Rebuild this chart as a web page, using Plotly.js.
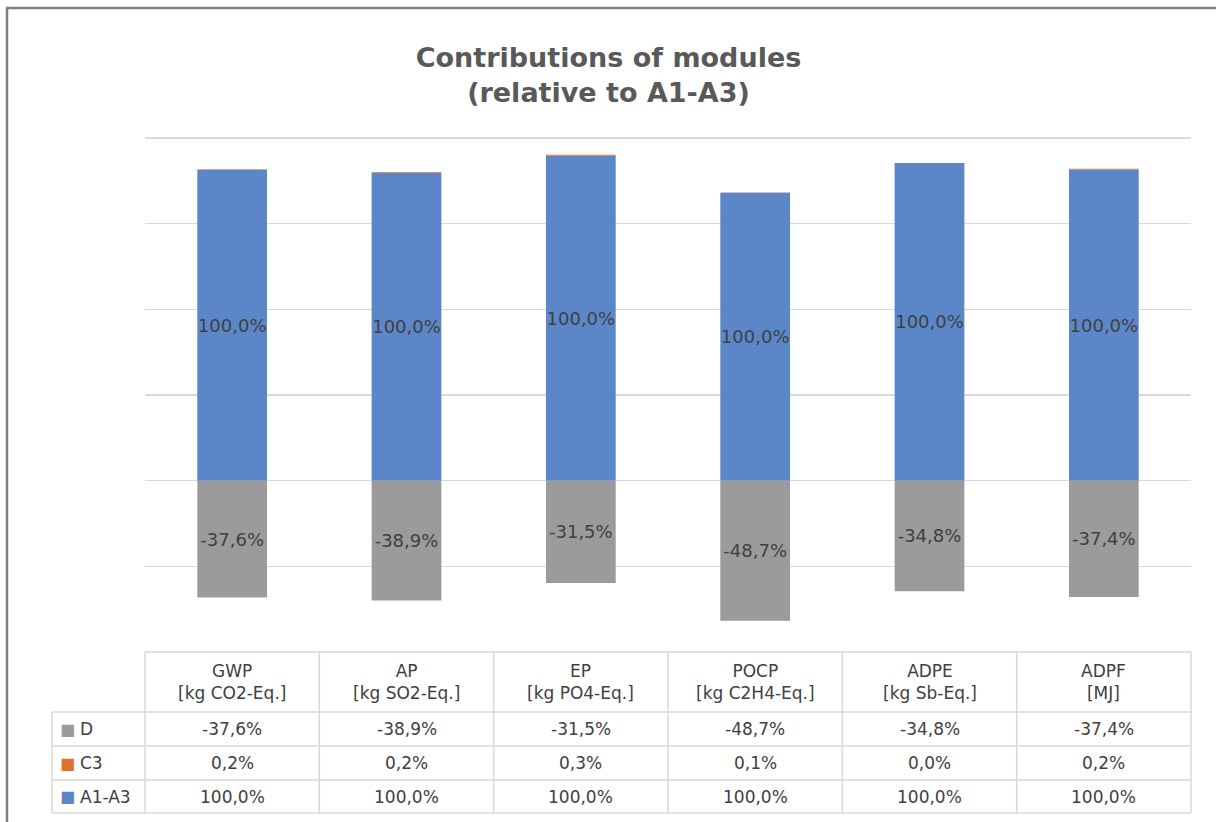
<!DOCTYPE html>
<html>
<head>
<meta charset="utf-8">
<script src="https://cdn.plot.ly/plotly-3.0.1.min.js"></script>
<style>html,body{margin:0;padding:0;background:#fff;overflow:hidden;}#chart{width:1217px;height:822px;}</style>
</head>
<body>
<div id="chart"></div>
<script>
// ---- data ----
var categories = ['GWP', 'AP', 'EP', 'POCP', 'ADPE', 'ADPF'];
var units = ['[kg CO2-Eq.]', '[kg SO2-Eq.]', '[kg PO4-Eq.]', '[kg C2H4-Eq.]', '[kg Sb-Eq.]', '[MJ]'];
var seriesNames = ['D', 'C3', 'A1-A3'];
var valuesA1A3 = [100.0, 100.0, 100.0, 100.0, 100.0, 100.0];
var valuesC3 = [0.2, 0.2, 0.3, 0.1, 0.0, 0.2];
var valuesD = [-37.6, -38.9, -31.5, -48.7, -34.8, -37.4];

// ---- styles ----
var colA1 = '#5b87c8', colC3 = '#e0702f', colD = '#9b9b9b';
var txtCol = '#404040', lineCol = '#d9d9d9';
var FONT = 'DejaVu Sans, Liberation Sans, Arial, sans-serif';
var W = 1217, H = 822;
function px(x) { return x / W; }
function py(y) { return (H - y) / H; }
function fmt(v) { return v.toFixed(1).replace('.', ',') + '%'; }

// 100% stacked (Excel style): each value relative to the sum of absolute values of its column
var totals = categories.map(function (c, i) {
  return Math.abs(valuesA1A3[i]) + Math.abs(valuesC3[i]) + Math.abs(valuesD[i]);
});
function norm(arr) { return arr.map(function (v, i) { return v / totals[i]; }); }

// plot / table geometry (pixels)
var plotL = 145, plotR = 1191, tableL = 52;
var colW = (plotR - plotL) / categories.length;
var headTop = 652, headBot = 712;
var rowBounds = [712, 746, 780, 813];

var barCommon = {
  type: 'bar', x: categories, width: 0.4, hoverinfo: 'skip',
  textposition: 'inside', insidetextanchor: 'middle', constraintext: 'none', textangle: 0,
  textfont: { family: FONT, size: 18, color: txtCol }, showlegend: false
};

var traces = [
  Object.assign({}, barCommon, { name: seriesNames[2], y: norm(valuesA1A3), text: valuesA1A3.map(fmt), marker: { color: colA1 } }),
  Object.assign({}, barCommon, { name: seriesNames[1], y: norm(valuesC3), text: valuesC3.map(function () { return ''; }), marker: { color: colC3 } }),
  Object.assign({}, barCommon, { name: seriesNames[0], y: norm(valuesD), text: valuesD.map(fmt), marker: { color: colD } })
];

// ---- data table drawn with shapes + annotations ----
var shapes = [];
var annotations = [];
function hline(y, x0, x1) {
  shapes.push({ type: 'line', xref: 'paper', yref: 'paper', x0: px(x0), x1: px(x1), y0: py(y), y1: py(y),
    line: { color: lineCol, width: 1.5 } });
}
function vline(x, y0, y1) {
  shapes.push({ type: 'line', xref: 'paper', yref: 'paper', x0: px(x), x1: px(x), y0: py(y0), y1: py(y1),
    line: { color: lineCol, width: 1.5 } });
}
hline(headTop, plotL, plotR);
rowBounds.forEach(function (y) { hline(y, tableL, plotR); });
vline(tableL, headBot, rowBounds[rowBounds.length - 1]);
for (var k = 0; k <= categories.length; k++) {
  vline(plotL + k * colW, headTop, rowBounds[rowBounds.length - 1]);
}

// header texts
categories.forEach(function (c, i) {
  annotations.push({ xref: 'paper', yref: 'paper', x: px(plotL + (i + 0.5) * colW), y: py((headTop + headBot) / 2),
    xanchor: 'center', yanchor: 'middle', showarrow: false, align: 'center',
    text: c + '<br>' + units[i], font: { family: FONT, size: 17, color: txtCol } });
});
// body rows
var rowSeries = [valuesD, valuesC3, valuesA1A3];
var rowColors = [colD, colC3, colA1];
rowSeries.forEach(function (vals, r) {
  var yc = py((rowBounds[r] + rowBounds[r + 1]) / 2);
  annotations.push({ xref: 'paper', yref: 'paper', x: px(tableL + 6), y: yc, xanchor: 'left', yanchor: 'middle',
    showarrow: false, text: '■', font: { family: FONT, size: 16, color: rowColors[r] } });
  annotations.push({ xref: 'paper', yref: 'paper', x: px(tableL + 26), y: yc, xanchor: 'left', yanchor: 'middle',
    showarrow: false, text: seriesNames[r], font: { family: FONT, size: 17, color: txtCol } });
  vals.forEach(function (v, i) {
    annotations.push({ xref: 'paper', yref: 'paper', x: px(plotL + (i + 0.5) * colW), y: yc,
      xanchor: 'center', yanchor: 'middle', showarrow: false,
      text: fmt(v), font: { family: FONT, size: 17, color: txtCol } });
  });
});

// outer frame (left and top edges only)
shapes.push({ type: 'line', xref: 'paper', yref: 'paper', x0: px(7), x1: px(7), y0: 0, y1: py(8),
  line: { color: '#808080', width: 2.5 } });
shapes.push({ type: 'line', xref: 'paper', yref: 'paper', x0: px(6), x1: px(1216), y0: py(8), y1: py(8),
  line: { color: '#808080', width: 2.5 } });

var yMin = -0.4, yMax = 0.81, gridTopVal = 0.8;
var pxPerUnit = (headTop - 138) / (gridTopVal - yMin);
var plotTop = 138 - (yMax - gridTopVal) * pxPerUnit;

var layout = {
  width: W, height: H,
  margin: { l: 0, r: 0, t: 0, b: 0 },
  paper_bgcolor: '#ffffff', plot_bgcolor: 'rgba(0,0,0,0)',
  barmode: 'relative',
  font: { family: FONT, color: txtCol },
  title: {
    text: 'Contributions of modules<br>(relative to A1-A3)',
    x: 0.5, xanchor: 'center', xref: 'paper',
    y: py(67), yanchor: 'middle', yref: 'paper',
    font: { family: FONT, size: 27, color: '#595959', weight: 'bold' }
  },
  xaxis: {
    domain: [px(plotL), px(plotR)], range: [-0.5, 5.5], type: 'category',
    showticklabels: false, showgrid: false, zeroline: false, showline: false, ticks: ''
  },
  yaxis: {
    domain: [py(headTop), py(plotTop)], range: [yMin, yMax], dtick: 0.2, tick0: 0,
    showticklabels: false, showgrid: true, gridcolor: lineCol, gridwidth: 1.5,
    zeroline: false, showline: false, ticks: ''
  },
  shapes: shapes,
  annotations: annotations
};

Plotly.newPlot('chart', traces, layout, { displayModeBar: false, staticPlot: true });
</script>
</body>
</html>
